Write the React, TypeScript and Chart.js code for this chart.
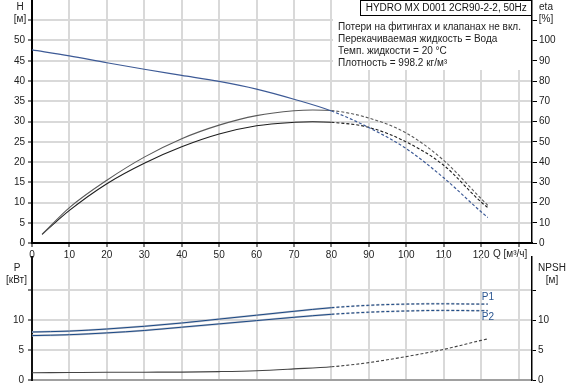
import React, { useEffect, useRef } from 'react';
import { Chart, registerables } from 'chart.js';

Chart.register(...registerables);

const FONT_FAMILY = '"Liberation Sans", Arial, Helvetica, sans-serif';

// ---- data ----
const Q_HEAD = [0, 10, 20, 30, 40, 50, 60, 70, 80, 90, 100, 110, 120, 121.8];
const HEAD_M = [47.7, 46.2, 44.5, 42.9, 41.4, 39.9, 38.0, 35.5, 32.6, 28.5, 23.3, 16.1, 7.7, 6.3];

const Q_ETA = [2.7, 10, 20, 30, 40, 50, 60, 70, 75, 80, 90, 100, 110, 120, 121.8];
const ETA_1 = [4.3, 17.5, 31.0, 42.4, 51.5, 58.2, 62.9, 65.3, 65.7, 65.4, 61.7, 54.3, 40.8, 21.9, 18.6];
const ETA_2 = [4.3, 16.1, 29.3, 39.4, 47.5, 53.8, 57.9, 59.6, 59.9, 59.6, 57.1, 49.9, 38.4, 20.2, 17.5];

const Q_POWER = [0, 10, 20, 30, 40, 50, 60, 70, 80, 90, 100, 110, 120, 121.8];
const P1_KW = [8.0, 8.15, 8.5, 8.95, 9.5, 10.15, 10.8, 11.45, 12.05, 12.45, 12.65, 12.7, 12.65, 12.65];
const P2_KW = [7.4, 7.55, 7.85, 8.25, 8.8, 9.35, 9.9, 10.45, 10.95, 11.3, 11.5, 11.6, 11.55, 11.55];
const NPSH_M = [1.22, 1.25, 1.28, 1.3, 1.32, 1.4, 1.55, 1.85, 2.2, 2.9, 3.9, 5.1, 6.6, 6.85];

const DASH_FROM_Q = 80;

const Q_TICKS = [0, 10, 20, 30, 40, 50, 60, 70, 80, 90, 100, 110, 120, 130];
const H_TICKS = [0, 5, 10, 15, 20, 25, 30, 35, 40, 45, 50, 55];
const ETA_TICKS = [0, 10, 20, 30, 40, 50, 60, 70, 80, 90, 100, 110];
const P_TICKS = [0, 5, 10, 15];
const HIDDEN_LABELS = { q: 130, h: 55, eta: 110, p: 15 };

const TITLE = 'HYDRO MX D001 2CR90-2-2, 50Hz';
const INFO_LINES = [
  'Потери на фитингах и клапанах не вкл.',
  'Перекачиваемая жидкость = Вода',
  'Темп. жидкости = 20 °C',
  'Плотность = 998.2 кг/м³',
];
const Q_LABEL = 'Q [м³/ч]';

const GRID = '#d9d9d9';
const TEXT = '#222';

const pts = (xs: number[], ys: number[]) => xs.map((x, i) => ({ x, y: ys[i] }));

const dashSegment = {
  borderDash: (ctx: any) => (ctx.p0.parsed.x >= DASH_FROM_Q - 0.01 ? [3, 2] : undefined),
};

function lineDs(data: any[], color: string, width: number, yAxisID: string) {
  return {
    data,
    borderColor: color,
    borderWidth: width,
    pointRadius: 0,
    pointHoverRadius: 0,
    fill: false,
    cubicInterpolationMode: 'monotone' as const,
    yAxisID,
    xAxisID: 'x',
    segment: dashSegment,
  };
}

const zeroPad = (s: any) => {
  s.paddingTop = 0;
  s.paddingBottom = 0;
  s.paddingLeft = 0;
  s.paddingRight = 0;
};

const tickFont = { size: 10, family: FONT_FAMILY };

function setTicks(list: number[]) {
  return (s: any) => {
    s.ticks = list.map((v) => ({ value: v }));
  };
}

function labelCb(hidden: number) {
  return (v: any) => (Number(v) === hidden ? '' : String(v));
}

const topPlugin = {
  id: 'topDecor',
  beforeDatasetsDraw(chart: any) {
    const ctx = chart.ctx;
    const a = chart.chartArea;
    ctx.save();
    // info panel
    ctx.fillStyle = '#fff';
    ctx.fillRect(333, a.top, a.right - 334, 70);
    ctx.font = `10px ${FONT_FAMILY}`;
    ctx.fillStyle = TEXT;
    ctx.textAlign = 'left';
    ctx.textBaseline = 'middle';
    INFO_LINES.forEach((t, i) => ctx.fillText(t, 338, 27 + i * 12));
    // title box
    ctx.fillStyle = '#fff';
    ctx.fillRect(360.5, 0.5, a.right - 361, 15);
    ctx.strokeStyle = '#000';
    ctx.lineWidth = 1;
    ctx.strokeRect(360.5, 0.5, a.right - 361, 15);
    ctx.fillStyle = '#111';
    ctx.textAlign = 'center';
    ctx.fillText(TITLE, (360.5 + a.right) / 2, 8.5);
    ctx.restore();
  },
  afterDraw(chart: any) {
    const ctx = chart.ctx;
    const a = chart.chartArea;
    ctx.save();
    ctx.font = `10px ${FONT_FAMILY}`;
    ctx.fillStyle = TEXT;
    ctx.textBaseline = 'middle';
    ctx.textAlign = 'center';
    ctx.fillText('H', 20, 7.5);
    ctx.fillText('[м]', 20, 19.5);
    ctx.fillText('eta', 546, 7.5);
    ctx.fillText('[%]', 546, 19.5);
    ctx.textAlign = 'left';
    ctx.fillText(Q_LABEL, 493, a.bottom + 11);
    ctx.restore();
  },
};

const bottomPlugin = {
  id: 'bottomDecor',
  afterDraw(chart: any) {
    const ctx = chart.ctx;
    const xs = chart.scales.x;
    const ys = chart.scales.y;
    ctx.save();
    ctx.font = `10px ${FONT_FAMILY}`;
    ctx.fillStyle = TEXT;
    ctx.textBaseline = 'middle';
    ctx.textAlign = 'center';
    ctx.fillText('P', 17, 14);
    ctx.fillText('[кВт]', 16.5, 26);
    ctx.fillText('NPSH', 552, 14);
    ctx.fillText('[м]', 552, 26);
    const last = Q_POWER.length - 1;
    const lx = xs.getPixelForValue(Q_POWER[last]);
    ctx.fillStyle = '#2a5590';
    ctx.fillText('P1', lx, ys.getPixelForValue(P1_KW[last]) - 6.5);
    ctx.fillText('P2', lx, ys.getPixelForValue(P2_KW[last]) + 7);
    ctx.restore();
  },
};

function commonX(height: number, showLabels: boolean) {
  return {
    type: 'linear' as const,
    position: 'bottom' as const,
    min: 0,
    max: 133.6,
    afterBuildTicks: setTicks(Q_TICKS),
    afterFit: (s: any) => {
      s.height = height;
      zeroPad(s);
    },
    ticks: {
      display: showLabels,
      autoSkip: false,
      maxRotation: 0,
      padding: 2,
      color: TEXT,
      font: tickFont,
      callback: labelCb(HIDDEN_LABELS.q),
    },
    grid: {
      color: GRID,
      lineWidth: 2,
      drawTicks: showLabels,
      tickColor: '#000',
      tickLength: showLabels ? 4 : 0,
      tickWidth: 1,
    },
    border: { color: showLabels ? '#000' : '#a0a0a0', width: 2 },
  };
}

export default function App() {
  const topRef = useRef<HTMLCanvasElement | null>(null);
  const botRef = useRef<HTMLCanvasElement | null>(null);

  useEffect(() => {
    const common = {
      responsive: false,
      animation: false as const,
      devicePixelRatio: 1,
      events: [] as any[],
      plugins: { legend: { display: false }, tooltip: { enabled: false }, title: { display: false } },
    };

    const top = new Chart(topRef.current as HTMLCanvasElement, {
      type: 'line',
      data: {
        datasets: [
          lineDs(pts(Q_HEAD, HEAD_M), '#3d5a96', 1.2, 'y'),
          lineDs(pts(Q_ETA, ETA_1), '#5a5a5a', 1.1, 'y2'),
          lineDs(pts(Q_ETA, ETA_2), '#1e1e1e', 1.1, 'y2'),
        ] as any,
      },
      options: {
        ...common,
        layout: { padding: 0 },
        scales: {
          x: commonX(19, true),
          y: {
            type: 'linear',
            position: 'left',
            min: 0,
            max: 60,
            afterBuildTicks: setTicks(H_TICKS),
            afterFit: (s: any) => {
              s.width = 32;
              zeroPad(s);
            },
            ticks: { padding: 3, color: TEXT, font: tickFont, callback: labelCb(HIDDEN_LABELS.h) },
            grid: { color: GRID, lineWidth: 2, tickColor: '#000', tickLength: 4, tickWidth: 1 },
            border: { color: '#000', width: 2 },
          },
          y2: {
            type: 'linear',
            position: 'right',
            min: 0,
            max: 120,
            afterBuildTicks: setTicks(ETA_TICKS),
            afterFit: (s: any) => {
              s.width = 40;
              zeroPad(s);
            },
            ticks: { padding: 2, color: TEXT, font: tickFont, callback: labelCb(HIDDEN_LABELS.eta) },
            grid: { drawOnChartArea: false, tickColor: '#000', tickLength: 5, tickWidth: 1 },
            border: { color: '#000', width: 1.5 },
          },
        },
      } as any,
      plugins: [topPlugin],
    });

    const bottom = new Chart(botRef.current as HTMLCanvasElement, {
      type: 'line',
      data: {
        datasets: [
          lineDs(pts(Q_POWER, P1_KW), '#1c4a86', 1, 'y'),
          lineDs(pts(Q_POWER, P2_KW), '#1c4a86', 1, 'y'),
          lineDs(pts(Q_POWER, P1_KW), '#c0c3cc', 2, 'y'),
          lineDs(pts(Q_POWER, P2_KW), '#c0c3cc', 2, 'y'),
          lineDs(pts(Q_POWER, NPSH_M), '#444', 1.1, 'y2'),
        ] as any,
      },
      options: {
        ...common,
        layout: { padding: { top: 3, left: 0, right: 0, bottom: 0 } },
        scales: {
          x: commonX(8, false),
          y: {
            type: 'linear',
            position: 'left',
            min: 0,
            max: 20.5,
            afterBuildTicks: setTicks(P_TICKS),
            afterFit: (s: any) => {
              s.width = 32;
              zeroPad(s);
            },
            ticks: { padding: 4, color: TEXT, font: tickFont, callback: labelCb(HIDDEN_LABELS.p) },
            grid: { color: GRID, lineWidth: 2, tickColor: '#000', tickLength: 4, tickWidth: 1 },
            border: { color: '#111', width: 2 },
          },
          y2: {
            type: 'linear',
            position: 'right',
            min: 0,
            max: 20.5,
            afterBuildTicks: setTicks(P_TICKS),
            afterFit: (s: any) => {
              s.width = 40;
              zeroPad(s);
            },
            ticks: { padding: 2, color: TEXT, font: tickFont, callback: labelCb(HIDDEN_LABELS.p) },
            grid: { drawOnChartArea: false, tickColor: '#000', tickLength: 4, tickWidth: 1 },
            border: { color: '#000', width: 1.5 },
          },
        },
      } as any,
      plugins: [bottomPlugin],
    });

    return () => {
      top.destroy();
      bottom.destroy();
    };
  }, []);

  return (
    <div style={{ position: 'fixed', left: 0, top: 0, width: 572, height: 388, background: '#fff' }}>
      <canvas ref={topRef} width={572} height={262} style={{ position: 'absolute', left: 0, top: 0 }} />
      <canvas ref={botRef} width={572} height={134} style={{ position: 'absolute', left: 0, top: 254 }} />
    </div>
  );
}
